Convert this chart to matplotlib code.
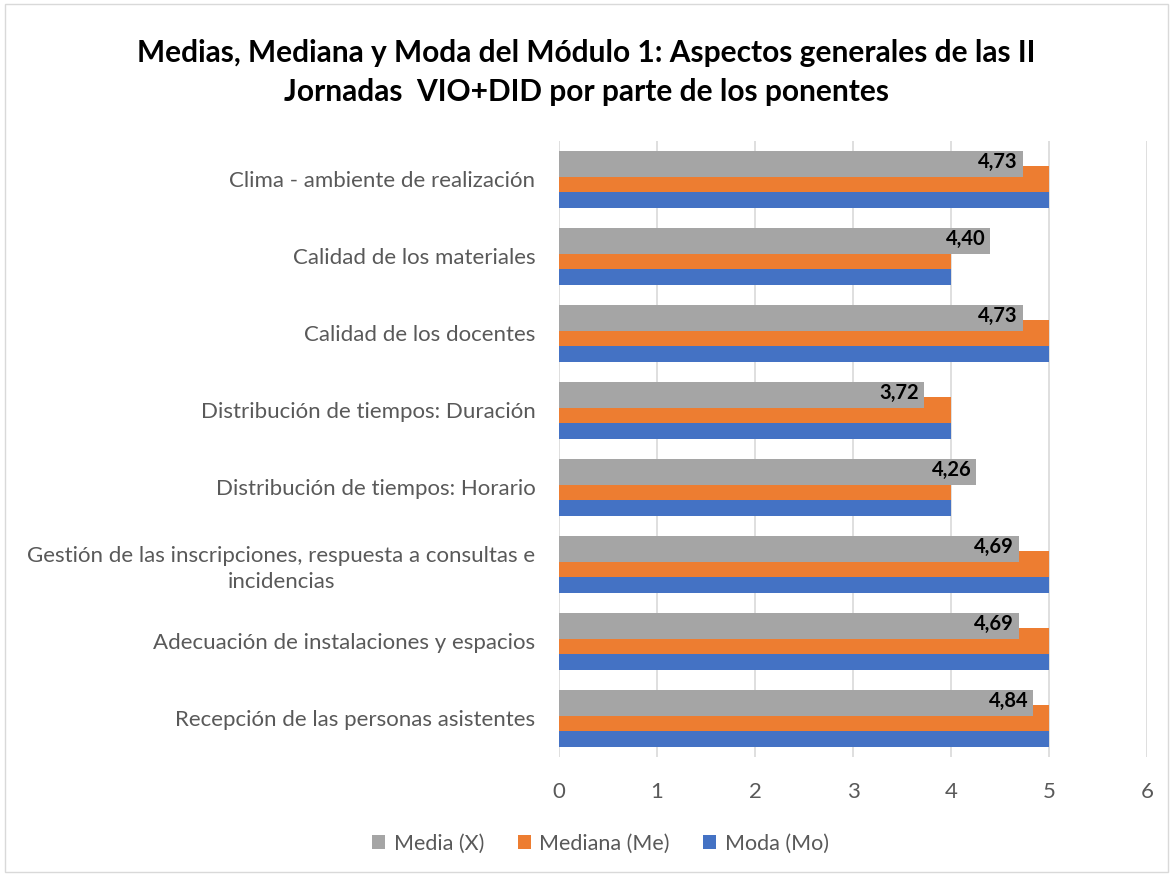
import numpy as np
import matplotlib
matplotlib.use('Agg')
import matplotlib.pyplot as plt
from matplotlib.patches import Rectangle

plt.rcParams['font.family'] = ['Lato', 'DejaVu Sans']

categorias = [
    'Clima - ambiente de realización',
    'Calidad de los materiales',
    'Calidad de los docentes',
    'Distribución de tiempos: Duración',
    'Distribución de tiempos: Horario',
    'Gestión de las inscripciones, respuesta a consultas e\nincidencias',
    'Adecuación de instalaciones y espacios',
    'Recepción de las personas asistentes',
]
media = [4.73, 4.40, 4.73, 3.72, 4.26, 4.69, 4.69, 4.84]
mediana = [5, 4, 5, 4, 4, 5, 5, 5]
moda = [5, 4, 5, 4, 4, 5, 5, 5]
etiquetas = ['4,73', '4,40', '4,73', '3,72', '4,26', '4,69', '4,69', '4,84']

colores = {'media': '#a5a5a5', 'mediana': '#ed7d31', 'moda': '#4472c4'}

fig = plt.figure(figsize=(11.73, 8.75), dpi=100)
ax = fig.add_axes([0.4766, 0.1354, 0.5012, 0.704])

y = np.arange(len(categorias))
h = 0.34
off = 0.2

ax.barh(y + off, moda, height=h, color=colores['moda'], label='Moda (Mo)', zorder=3)
ax.barh(y, mediana, height=h, color=colores['mediana'], label='Mediana (Me)', zorder=4)
ax.barh(y - off, media, height=h, color=colores['media'], label='Media (X)', zorder=5)

for yi, v, t in zip(y, media, etiquetas):
    ax.text(v - 0.05, yi - off - 0.02, t, ha='right', va='center', fontsize=14.5,
            fontweight='bold', color='black', zorder=6)

ax.set_xlim(0, 6)
ax.set_ylim(len(categorias) - 0.5, -0.5)
ax.set_xticks(range(7))
ax.set_yticks(y)
ax.set_yticklabels(categorias, fontsize=16, color='#595959')
for t in ax.get_yticklabels():
    t.set_multialignment('center')
    t.set_linespacing(1.35)
ax.tick_params(axis='x', labelsize=16, labelcolor='#595959', length=0, pad=18)
ax.tick_params(axis='y', length=0, pad=17)
ax.grid(axis='x', color='#d9d9d9', linewidth=1.2, zorder=0)
for s in ax.spines.values():
    s.set_visible(False)

fig.text(0.5, 0.917, 'Medias, Mediana y Moda del Módulo 1: Aspectos generales de las II\nJornadas  VIO+DID por parte de los ponentes',
         ha='center', va='center', fontsize=21.5, fontweight='bold', linespacing=1.5)

handles, labels = ax.get_legend_handles_labels()
fig.legend(handles[::-1], labels[::-1], loc='center', bbox_to_anchor=(0.512, 0.036), ncol=3,
           frameon=False, fontsize=15.5, labelcolor='#595959', handlelength=0.6, handleheight=0.6,
           handletextpad=0.4, columnspacing=1.55)

fig.patches.append(Rectangle((0.004, 0.004), 0.992, 0.992, transform=fig.transFigure,
                             fill=False, edgecolor='#d9d9d9', linewidth=1))

plt.savefig('out.png', dpi=100)
